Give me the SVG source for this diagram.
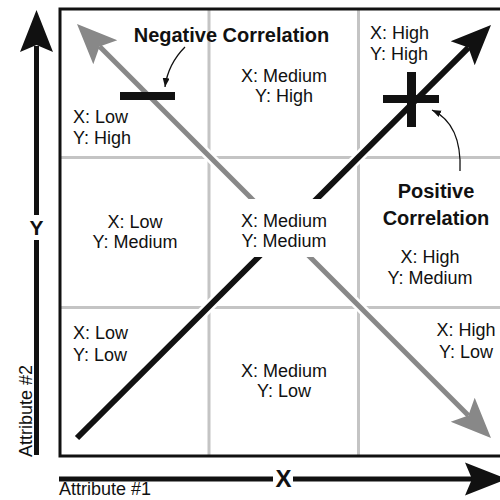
<svg xmlns="http://www.w3.org/2000/svg" width="500" height="500" viewBox="0 0 500 500">
<defs>
<style>
.t{font-family:"Liberation Sans",Arial,sans-serif;font-size:18px;fill:#111}
.b{font-family:"Liberation Sans",Arial,sans-serif;font-weight:bold;fill:#111}
.grid{stroke:#c4c4c4;stroke-width:3;fill:none}
.halo{stroke:#fff;fill:none}
.thin{stroke:#111;stroke-width:1.3;fill:none}
</style>
<marker id="ah" markerUnits="userSpaceOnUse" markerWidth="10" markerHeight="8" refX="9" refY="3.5" orient="auto">
<path d="M0,0 L9,3.5 L0,7 z" fill="#111"/>
</marker>
</defs>
<rect width="500" height="500" fill="#fff"/>
<g id="frame">
<line class="grid" x1="209" y1="9" x2="209" y2="456"/>
<line class="grid" x1="358.5" y1="9" x2="358.5" y2="456"/>
<line class="grid" x1="60" y1="157.5" x2="508" y2="157.5"/>
<line class="grid" x1="60" y1="307.5" x2="508" y2="307.5"/>
<rect x="60" y="9" width="448" height="447" fill="none" stroke="#111" stroke-width="3"/>
</g>
<g id="connectors">
<path class="halo" stroke-width="10" d="M99.6,46.6 L468.4,415.4"/>
<path d="M99.6,46.6 L468.4,415.4" stroke="#888" stroke-width="5" fill="none"/>
<polygon points="77,24 117.3,40.3 99.6,46.6 93.3,64.3" fill="#888"/>
<polygon points="491,438 474.7,397.7 468.4,415.4 450.7,421.7" fill="#888"/>
<path class="halo" stroke-width="11" d="M77,438 L468.4,47.6"/>
<path d="M77,438 L468.4,47.6" stroke="#111" stroke-width="6" fill="none"/>
<polygon points="491,25 450.7,41.3 468.4,47.6 474.7,65.3" fill="#111"/>
<path class="thin" d="M185,47 Q168,64 165,87" marker-end="url(#ah)"/>
<path class="thin" d="M460,171 Q462,124 432,110" marker-end="url(#ah)"/>
</g>
<g id="axis-y">
<line x1="36.5" y1="455" x2="36.5" y2="240" stroke="#111" stroke-width="5"/>
<line x1="36.5" y1="215" x2="36.5" y2="46" stroke="#111" stroke-width="5"/>
<polygon points="36.5,10 53,52 36.5,45 20,52" fill="#111"/>
<text class="b" x="36.5" y="235" font-size="21" text-anchor="middle">Y</text>
<text class="t" transform="translate(31.5,457) rotate(-90)">Attribute #2</text>
</g>
<g id="axis-x">
<line x1="59" y1="479" x2="273" y2="479" stroke="#111" stroke-width="5"/>
<line x1="293" y1="479" x2="472" y2="479" stroke="#111" stroke-width="5"/>
<polygon points="507,479 465,462.5 472,479 465,495.5" fill="#111"/>
<text class="b" x="283.5" y="487" font-size="24" text-anchor="middle">X</text>
<text class="t" x="59" y="495">Attribute #1</text>
</g>
<g id="neg-marker">
<rect x="120" y="92" width="55" height="8" fill="#111"/>
<text class="b" x="231.5" y="42" font-size="20" text-anchor="middle">Negative Correlation</text>
</g>
<g id="pos-marker">
<rect x="383" y="95" width="56" height="8" fill="#111"/>
<rect x="407" y="72" width="9" height="55" fill="#111"/>
<text class="b" x="436" y="198" font-size="20" text-anchor="middle">Positive</text>
<text class="b" x="436" y="225" font-size="20" text-anchor="middle">Correlation</text>
</g>
<g id="cell-low-high"><text class="t" x="73" y="123">X: Low</text><text class="t" x="73" y="144">Y: High</text></g>
<g id="cell-medium-high"><text class="t" x="284" y="82" text-anchor="middle">X: Medium</text><text class="t" x="284" y="102" text-anchor="middle">Y: High</text></g>
<g id="cell-high-high"><text class="t" x="370" y="39">X: High</text><text class="t" x="370" y="60">Y: High</text></g>
<g id="cell-low-medium"><text class="t" x="135" y="228" text-anchor="middle">X: Low</text><text class="t" x="135" y="248" text-anchor="middle">Y: Medium</text></g>
<g id="cell-medium-medium"><rect x="239" y="199" width="90" height="58" fill="#fff"/><text class="t" x="284" y="227" text-anchor="middle">X: Medium</text><text class="t" x="284" y="247" text-anchor="middle">Y: Medium</text></g>
<g id="cell-high-medium"><text class="t" x="430" y="263" text-anchor="middle">X: High</text><text class="t" x="430" y="284" text-anchor="middle">Y: Medium</text></g>
<g id="cell-low-low"><text class="t" x="73" y="339">X: Low</text><text class="t" x="73" y="361">Y: Low</text></g>
<g id="cell-medium-low"><text class="t" x="284" y="377" text-anchor="middle">X: Medium</text><text class="t" x="284" y="397" text-anchor="middle">Y: Low</text></g>
<g id="cell-high-low"><text class="t" x="466" y="336" text-anchor="middle">X: High</text><text class="t" x="466" y="358" text-anchor="middle">Y: Low</text></g>
</svg>
